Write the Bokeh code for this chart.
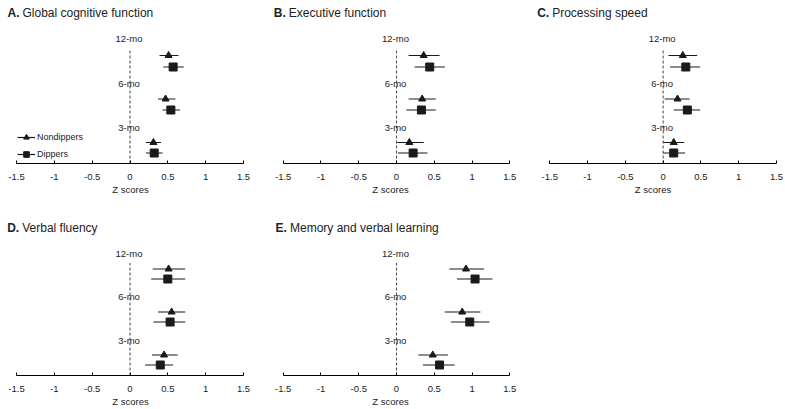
from bokeh.plotting import figure
from bokeh.models import Range1d, FixedTicker, Label, Legend, LegendItem
from bokeh.layouts import column, row
from bokeh.embed import file_html
from bokeh.resources import INLINE
from bokeh.core.properties import value

# ---------------- data ----------------
TIMEPOINTS = ["3-mo", "6-mo", "12-mo"]
TICKS = [-1.5, -1, -0.5, 0, 0.5, 1, 1.5]
TICK_LABELS = ["-1.5", "-1", "-0.5", "0", "0.5", "1", "1.5"]
PANEL_LETTERS = ["A.", "B.", "C.", "D.", "E."]
PANEL_TITLES = ["Global cognitive function", "Executive function", "Processing speed",
                "Verbal fluency", "Memory and verbal learning"]
SERIES_NAMES = ["Nondippers", "Dippers"]
AXIS_TITLE = "Z scores"

# order of values: 3-mo, 6-mo, 12-mo
GLOBAL_ND_MEAN = [0.31, 0.47, 0.51]
GLOBAL_ND_LO = [0.21, 0.37, 0.39]
GLOBAL_ND_HI = [0.41, 0.60, 0.64]
GLOBAL_DP_MEAN = [0.32, 0.54, 0.57]
GLOBAL_DP_LO = [0.21, 0.43, 0.44]
GLOBAL_DP_HI = [0.43, 0.66, 0.71]

EXEC_ND_MEAN = [0.17, 0.34, 0.36]
EXEC_ND_LO = [0.01, 0.16, 0.16]
EXEC_ND_HI = [0.36, 0.52, 0.57]
EXEC_DP_MEAN = [0.22, 0.33, 0.44]
EXEC_DP_LO = [0.02, 0.13, 0.24]
EXEC_DP_HI = [0.41, 0.52, 0.64]

SPEED_ND_MEAN = [0.14, 0.19, 0.26]
SPEED_ND_LO = [0.00, 0.02, 0.07]
SPEED_ND_HI = [0.28, 0.35, 0.45]
SPEED_DP_MEAN = [0.14, 0.32, 0.30]
SPEED_DP_LO = [0.00, 0.14, 0.09]
SPEED_DP_HI = [0.29, 0.49, 0.49]

FLUENCY_ND_MEAN = [0.45, 0.55, 0.51]
FLUENCY_ND_LO = [0.29, 0.37, 0.30]
FLUENCY_ND_HI = [0.63, 0.73, 0.73]
FLUENCY_DP_MEAN = [0.40, 0.53, 0.50]
FLUENCY_DP_LO = [0.20, 0.31, 0.28]
FLUENCY_DP_HI = [0.57, 0.73, 0.73]

MEMORY_ND_MEAN = [0.48, 0.87, 0.92]
MEMORY_ND_LO = [0.29, 0.64, 0.70]
MEMORY_ND_HI = [0.68, 1.11, 1.16]
MEMORY_DP_MEAN = [0.57, 0.97, 1.04]
MEMORY_DP_LO = [0.35, 0.72, 0.80]
MEMORY_DP_HI = [0.77, 1.23, 1.27]

PANEL_DATA = [
    (GLOBAL_ND_MEAN, GLOBAL_ND_LO, GLOBAL_ND_HI, GLOBAL_DP_MEAN, GLOBAL_DP_LO, GLOBAL_DP_HI),
    (EXEC_ND_MEAN, EXEC_ND_LO, EXEC_ND_HI, EXEC_DP_MEAN, EXEC_DP_LO, EXEC_DP_HI),
    (SPEED_ND_MEAN, SPEED_ND_LO, SPEED_ND_HI, SPEED_DP_MEAN, SPEED_DP_LO, SPEED_DP_HI),
    (FLUENCY_ND_MEAN, FLUENCY_ND_LO, FLUENCY_ND_HI, FLUENCY_DP_MEAN, FLUENCY_DP_LO, FLUENCY_DP_HI),
    (MEMORY_ND_MEAN, MEMORY_ND_LO, MEMORY_ND_HI, MEMORY_DP_MEAN, MEMORY_DP_LO, MEMORY_DP_HI),
]

# ---------------- layout / style ----------------
FONT = "Liberation Sans"
TXT = "#222222"
INK = "#1a1a1a"

# (fig width, axis -1.5 px, axis 1.5 px, title x px, fig height, frame height, title y)
LAYOUT = [
    (260, 16, 243, 7, 206, 163, 151),
    (260, 22.7, 249.3, 13.3, 206, 163, 151),
    (265, 29.3, 256, 16.7, 206, 163, 151),
    (260, 16, 243, 6.7, 203, 169, 148),
    (260, 22.7, 249.3, 15, 203, 169, 148),
]
# vertical slots per row: (square y0, triangle y0, label y0, step square, step tri, step label)
ROW_SLOTS = [
    (10.5, 21, 36, 43, 43.5, 44.5),
    (10.5, 20.5, 35.5, 43, 43, 43.5),
]


def make_panel(k):
    W, L, R, tx, H, FH, ty = LAYOUT[k]
    sq0, tr0, lb0, dsq, dtr, dlb = ROW_SLOTS[0 if k < 3 else 1]
    unit = (R - L) / 3.0
    xr = Range1d(-1.5 - L / unit, 1.5 + (W - R) / unit)
    p = figure(width=W, height=H, x_range=xr, y_range=Range1d(0, FH),
               output_backend="svg", toolbar_location=None, title=None,
               y_axis_location=None, min_border=0, min_border_bottom=H - FH)
    p.outline_line_color = None
    p.xgrid.visible = False
    p.ygrid.visible = False
    p.background_fill_color = "white"
    p.border_fill_color = "white"

    ax = p.xaxis[0]
    ax.bounds = (-1.5, 1.5)
    ax.ticker = FixedTicker(ticks=TICKS, minor_ticks=[])
    ax.major_label_overrides = {t: s for t, s in zip(TICKS, TICK_LABELS)}
    ax.major_tick_in = 3
    ax.major_tick_out = 0
    ax.minor_tick_in = 0
    ax.minor_tick_out = 0
    ax.axis_line_color = "black"
    ax.major_tick_line_color = "black"
    ax.major_label_text_font = FONT
    ax.major_label_text_font_size = "9.5px"
    ax.major_label_text_color = TXT
    ax.major_label_standoff = 10
    ax.axis_label = AXIS_TITLE
    ax.axis_label_text_font = FONT
    ax.axis_label_text_font_size = "9.5px"
    ax.axis_label_text_font_style = "normal"
    ax.axis_label_text_color = TXT
    ax.axis_label_standoff = 1

    nd_m, nd_lo, nd_hi, dp_m, dp_lo, dp_hi = PANEL_DATA[k]
    n = len(TIMEPOINTS)
    y_sq = [sq0 + dsq * i for i in range(n)]
    y_tr = [tr0 + dtr * i for i in range(n)]
    y_lab = [lb0 + dlb * i for i in range(n)]

    # reference line at zero
    p.segment(x0=[0], y0=[0], x1=[0], y1=[y_lab[-1] - 10], line_color="#555555",
              line_width=1.1, line_dash="3 2")

    p.text(x=[0] * n, y=y_lab, text=TIMEPOINTS, text_align="center",
           text_baseline="middle", text_font=value(FONT), text_font_size="9.5px",
           text_color=TXT, x_offset=-1)

    s_nd = p.segment(x0=nd_lo, y0=y_tr, x1=nd_hi, y1=y_tr, line_color=INK, line_width=1.2)
    m_nd = p.scatter(x=nd_m, y=y_tr, marker="triangle", size=7, fill_color=INK, line_color=INK)
    s_dp = p.segment(x0=dp_lo, y0=y_sq, x1=dp_hi, y1=y_sq, line_color=INK, line_width=1.2)
    m_dp = p.scatter(x=dp_m, y=y_sq, marker="square", size=8, fill_color=INK, line_color=INK)

    p.add_layout(Label(x=tx, y=ty, x_units="screen", y_units="data", text=PANEL_LETTERS[k],
                       text_font=FONT, text_font_size="12px", text_font_style="bold",
                       text_baseline="middle", text_color=TXT))
    p.add_layout(Label(x=tx, y=ty, x_units="screen", y_units="data", text=PANEL_TITLES[k],
                       x_offset=15 if k != 4 else 14.5,
                       text_font=FONT, text_font_size="12px", text_font_style="normal",
                       text_baseline="middle", text_color=TXT))

    if k == 0:
        legend = Legend(items=[LegendItem(label=SERIES_NAMES[0], renderers=[s_nd, m_nd]),
                               LegendItem(label=SERIES_NAMES[1], renderers=[s_dp, m_dp])],
                        location=(17, 2), orientation="vertical",
                        glyph_width=18, glyph_height=14, label_height=14,
                        label_standoff=2, spacing=3, padding=0, margin=0,
                        border_line_color=None, background_fill_alpha=0,
                        label_text_font=FONT, label_text_font_size="9px",
                        label_text_color=TXT)
        p.add_layout(legend, "center")
    return p


panels = [make_panel(k) for k in range(5)]
layout = column(row(panels[0], panels[1], panels[2]), row(panels[3], panels[4]))

open("out.html", "w").write(file_html(layout, INLINE))
